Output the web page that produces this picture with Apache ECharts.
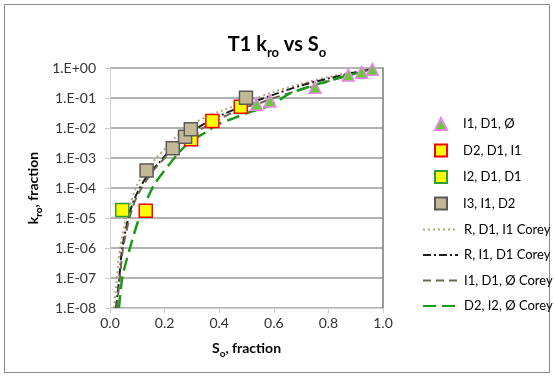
<!DOCTYPE html>
<html>
<head>
<meta charset="utf-8">
<script src="https://cdn.jsdelivr.net/npm/echarts@6/dist/echarts.min.js"></script>
<style>
html,body{margin:0;padding:0;background:#fff;}
#chart{width:554px;height:377px;}
</style>
</head>
<body>
<div id="chart"></div>
<script>
// ---- data ----
const seriesNames = ['I1, D1, Ø', 'D2, D1, I1', 'I2, D1, D1', 'I3, I1, D2',
  'R, D1, I1 Corey', 'R, I1, D1 Corey', 'I1, D1, Ø Corey', 'D2, I2, Ø Corey'];

const ptsI1D1O = [[0.537,0.062],[0.586,0.079],[0.751,0.227],[0.873,0.58],[0.922,0.72],[0.961,0.9]];
const ptsD2D1I1 = [[0.131,1.75e-5],[0.297,4.2e-3],[0.375,0.017],[0.479,0.051]];
const ptsI2D1D1 = [[0.045,1.85e-5]];
const ptsI3I1D2 = [[0.134,3.8e-4],[0.23,2.1e-3],[0.275,5.1e-3],[0.296,9.0e-3],[0.498,0.102]];

const coreyRD1I1 = [[0.015,1e-8],[0.025,1e-7],[0.037,1e-6],[0.055,7e-6],[0.075,3e-5],[0.1,1.3e-4],[0.134,4e-4],[0.165,9e-4],[0.2,2e-3],[0.25,6e-3],[0.3,1.3e-2],[0.35,2.3e-2],[0.4,3.5e-2],[0.5,7.5e-2],[0.6,0.16],[0.7,0.3],[0.8,0.5],[0.9,0.75],[0.96,0.93]];
const coreyRI1D1 = [[0.022,1e-8],[0.034,1e-7],[0.045,1e-6],[0.073,1.6e-5],[0.1,7e-5],[0.14,2.8e-4],[0.18,7e-4],[0.23,2.2e-3],[0.28,5.5e-3],[0.34,1.3e-2],[0.4,2.5e-2],[0.5,6e-2],[0.6,0.13],[0.7,0.26],[0.8,0.45],[0.9,0.72],[0.96,0.92]];
const coreyI1D1O = [[0.025,1e-8],[0.036,1e-7],[0.048,1e-6],[0.075,1.3e-5],[0.1,5.5e-5],[0.15,3e-4],[0.2,1e-3],[0.25,2.8e-3],[0.3,6e-3],[0.4,2e-2],[0.5,5e-2],[0.55,6.8e-2],[0.6,0.1],[0.7,0.19],[0.75,0.25],[0.8,0.36],[0.87,0.55],[0.92,0.72],[0.96,0.9]];
const coreyD2I2O = [[0.033,1e-8],[0.045,1e-7],[0.073,1e-6],[0.107,1e-5],[0.14,5.1e-5],[0.165,1.44e-4],[0.22,6.6e-4],[0.25,1.43e-3],[0.293,3.5e-3],[0.354,7.5e-3],[0.391,1.26e-2],[0.452,2.1e-2],[0.5,3.1e-2],[0.574,5.1e-2],[0.61,7.5e-2],[0.66,0.143],[0.75,0.27],[0.85,0.5],[0.96,0.9]];

const xTickLabels = ['0.0','0.2','0.4','0.6','0.8','1.0'];
const yTickLabels = ['1.E-08','1.E-07','1.E-06','1.E-05','1.E-04','1.E-03','1.E-02','1.E-01','1.E+00'];

// ---- chart ----
const FONT = 'Lato, "Open Sans", sans-serif';
const chart = echarts.init(document.getElementById('chart'), null, {renderer:'canvas'});

const subRich = (size, subSize) => ({
  b: {fontFamily: FONT, fontWeight: 'bold', fontSize: size, color: '#000', verticalAlign: 'top', lineHeight: size + 4},
  s: {fontFamily: FONT, fontWeight: 'bold', fontSize: subSize, color: '#000', verticalAlign: 'bottom', lineHeight: subSize + 2, padding: [Math.round(size*0.7),0,0,0]}
});

const lineSeries = (name, data, color, type, width) => ({
  name, type: 'line', data, showSymbol: false, symbol: 'none', smooth: 0.3,
  lineStyle: {color, type, width}, itemStyle: {color}, z: 2, silent: true
});
const scatterSeries = (name, data, symbol, size, fill, border) => ({
  name, type: 'scatter', data, symbol, symbolSize: size, symbolKeepAspect: true,
  itemStyle: {color: fill, borderColor: border, borderWidth: 1.5, opacity: 1}, z: 5, silent: true
});

const hiddenSym = {color: 'rgba(0,0,0,0)', borderColor: 'rgba(0,0,0,0)', borderWidth: 0, opacity: 0};

chart.setOption({
  animation: false,
  backgroundColor: '#fff',
  textStyle: {fontFamily: FONT},
  title: {
    text: '{b|T1 k}{s|ro}{b| vs S}{s|o}',
    left: 'center', top: 30,
    textStyle: {rich: subRich(20, 13)}
  },
  grid: {left: 110, right: 171, top: 68, bottom: 69, containLabel: false},
  xAxis: {
    type: 'value', min: 0, max: 1, interval: 0.2,
    name: '{b|S}{s|o}{b|, fraction}', nameLocation: 'middle', nameGap: 33,
    nameTextStyle: {rich: subRich(14, 10)},
    axisLine: {show: true, onZero: false, lineStyle: {color: '#d0d0d0', width: 1}},
    axisTick: {show: true, length: 5, lineStyle: {color: '#d0d0d0'}},
    axisLabel: {fontFamily: FONT, fontSize: 14, color: '#333', margin: 8,
      formatter: (v, i) => xTickLabels[i]},
    splitLine: {show: false}
  },
  yAxis: [{
    type: 'log', logBase: 10, min: 1e-8, max: 1, interval: 1,
    name: '{b|k}{s|ro}{b|, fraction}', nameLocation: 'middle', nameGap: 66, nameRotate: 90,
    nameTextStyle: {rich: subRich(14, 10)},
    axisLine: {show: true, lineStyle: {color: '#d0d0d0', width: 1}},
    axisTick: {show: true, length: 5, lineStyle: {color: '#d0d0d0'}},
    axisLabel: {fontFamily: FONT, fontSize: 14, color: '#333', margin: 14,
      formatter: (v, i) => yTickLabels[i]},
    splitLine: {show: true, lineStyle: {color: '#9a9a9a', width: 1.5}}
  },{
    type: 'log', logBase: 10, min: 1e-8, max: 1, interval: 1, position: 'right',
    axisLine: {show: true, lineStyle: {color: '#777', width: 1.5}},
    axisTick: {show: false}, axisLabel: {show: false}, splitLine: {show: false}
  }],
  legend: [{
    orient: 'vertical', left: 429, top: 112, itemWidth: 12, itemHeight: 12, itemGap: 12.5,
    symbolKeepAspect: true,
    textStyle: {fontFamily: FONT, fontSize: 13, color: '#000', padding: [0,0,0,11]},
    data: seriesNames.slice(0, 4).map(n => ({name: n}))
  },{
    orient: 'vertical', left: 417, top: 218, itemWidth: 35, itemHeight: 12, itemGap: 12.5,
    textStyle: {fontFamily: FONT, fontSize: 13, color: '#000', padding: [0,0,0,1]},
    data: seriesNames.slice(4).map(n => ({name: n, itemStyle: hiddenSym}))
  }],
  series: [
    scatterSeries(seriesNames[0], ptsI1D1O, 'triangle', 12, '#66cc33', '#ee82ee'),
    scatterSeries(seriesNames[1], ptsD2D1I1, 'rect', 13, '#ffff00', '#ff0000'),
    scatterSeries(seriesNames[2], ptsI2D1D1, 'rect', 13, '#ffff00', '#2ca02c'),
    scatterSeries(seriesNames[3], ptsI3I1D2, 'rect', 13, '#c4b996', '#5a5a5a'),
    lineSeries(seriesNames[4], coreyRD1I1, '#b5a77a', [2,3], 2),
    lineSeries(seriesNames[5], coreyRI1D1, '#1e1e1e', [8,3,2,3], 2),
    lineSeries(seriesNames[6], coreyI1D1O, '#6e6850', [8,5], 2),
    lineSeries(seriesNames[7], coreyD2I2O, '#1a9a1a', [13,6], 2.5)
  ],
  graphic: [{
    type: 'rect', shape: {x: 4.5, y: 4.5, width: 545, height: 368},
    style: {fill: 'none', stroke: '#888', lineWidth: 1}, silent: true, z: -10
  }]
});
</script>
</body>
</html>
